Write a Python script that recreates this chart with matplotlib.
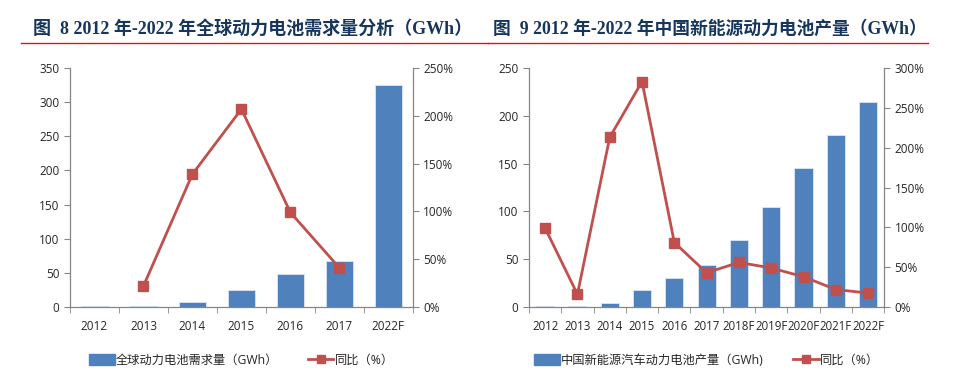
import matplotlib
matplotlib.use("Agg")
import matplotlib.pyplot as plt
from matplotlib.lines import Line2D
from matplotlib.patches import Patch
from matplotlib.ticker import FuncFormatter, FixedLocator
import numpy as np

plt.rcParams['font.family'] = ['Open Sans', 'Noto Sans CJK SC', 'DejaVu Sans']

# ---- Data ----
left_cats = ["2012", "2013", "2014", "2015", "2016", "2017", "2022F"]
left_demand = [1.5, 1.5, 7.8, 25, 48, 68, 325]
left_yoy = [None, 22, 139, 207, 99, 41, None]

right_cats = ["2012", "2013", "2014", "2015", "2016", "2017", "2018F", "2019F", "2020F", "2021F", "2022F"]
right_prod = [1.0, 1.2, 3.9, 17.4, 30.3, 43.5, 70.3, 105, 145.8, 179.6, 214.4]
right_yoy = [99, 16, 213, 283, 81, 43, 56, 49, 38, 22, 17.5]

left_title = "图  8 2012 年-2022 年全球动力电池需求量分析（GWh）"
right_title = "图  9 2012 年-2022 年中国新能源动力电池产量（GWh）"
left_bar_label = "全球动力电池需求量（GWh）"
right_bar_label = "中国新能源汽车动力电池产量（GWh)"
line_label = "同比（%）"

BAR = "#4F81BD"
LINE = "#C0504D"
SPINE = "#868686"
TXT = "#262626"

fig = plt.figure(figsize=(9.76, 3.8), dpi=100)

def make(pos, cats, bars, yoy, ymax, ystep, pmax, pstep, bar_label, fs):
    ax = fig.add_axes(pos)
    n = len(cats)
    x = np.arange(n)
    ax.bar(x, bars, width=0.56, color=BAR, edgecolor="#DCE6F2", linewidth=0.6, zorder=2)
    ax.set_xlim(-0.5, n - 0.5)
    ax.set_ylim(0, ymax)
    ax.set_yticks(np.arange(0, ymax + 1, ystep))
    ax.set_xticks(x)
    ax.set_xticklabels(cats, fontsize=fs, color=TXT)
    ax.xaxis.set_minor_locator(FixedLocator(np.arange(-0.5, n, 1.0)))
    ax.tick_params(axis='x', which='major', length=0, pad=9)
    ax.tick_params(axis='x', which='minor', length=4, color=SPINE, direction='out')
    ax.tick_params(axis='y', length=4, color=SPINE, labelsize=8.5, labelcolor=TXT)
    for s in ["top", "right"]:
        ax.spines[s].set_visible(False)
    for s in ["left", "bottom"]:
        ax.spines[s].set_color(SPINE)
        ax.spines[s].set_linewidth(0.9)

    ax2 = ax.twinx()
    xs = [i for i, v in enumerate(yoy) if v is not None]
    ys = [v for v in yoy if v is not None]
    ax2.plot(xs, ys, color=LINE, lw=2.0, marker="s", markersize=7, zorder=3)
    ax2.set_ylim(0, pmax)
    ax2.set_yticks(np.arange(0, pmax + 1, pstep))
    ax2.yaxis.set_major_formatter(FuncFormatter(lambda v, p: f"{int(v)}%"))
    ax2.tick_params(axis='y', length=4, color=SPINE, labelsize=8.5, labelcolor=TXT)
    for s in ["top", "left", "bottom"]:
        ax2.spines[s].set_visible(False)
    ax2.spines["right"].set_color(SPINE)
    ax2.spines["right"].set_linewidth(0.9)

    handles = [Patch(facecolor=BAR, edgecolor=BAR, label=bar_label),
               Line2D([0], [0], color=LINE, lw=2.0, marker="s", markersize=6, label=line_label)]
    leg = ax.legend(handles=handles, loc="upper center", bbox_to_anchor=(0.5, -0.15),
                    ncol=2, frameon=False, fontsize=8.8, handlelength=2.1, handleheight=1.0,
                    columnspacing=2.4, handletextpad=0.1)
    for t in leg.get_texts():
        t.set_color(TXT)
    return ax

make([0.0717, 0.192, 0.3513, 0.629], left_cats, left_demand, left_yoy,
     350, 50, 250, 50, left_bar_label, 8.5)
make([0.542, 0.192, 0.364, 0.629], right_cats, right_prod, right_yoy,
     250, 50, 300, 50, right_bar_label, 8.3)

title_font = dict(family=['Liberation Serif', 'Noto Sans CJK SC'],
                  fontweight='bold', color="#17365D")
fig.text(33 / 976, 1 - 29 / 380, left_title, ha="left", va="center", fontsize=13, **title_font)
fig.text(493 / 976, 1 - 29 / 380, right_title, ha="left", va="center", fontsize=12.8, **title_font)

fig.add_artist(Line2D([21 / 976, 488 / 976], [1 - 43 / 380] * 2, color="#E81010", lw=1.0))
fig.add_artist(Line2D([488 / 976, 928 / 976], [1 - 43 / 380] * 2, color="#E81010", lw=1.0))

fig.savefig("out.png", dpi=100, facecolor="white")
